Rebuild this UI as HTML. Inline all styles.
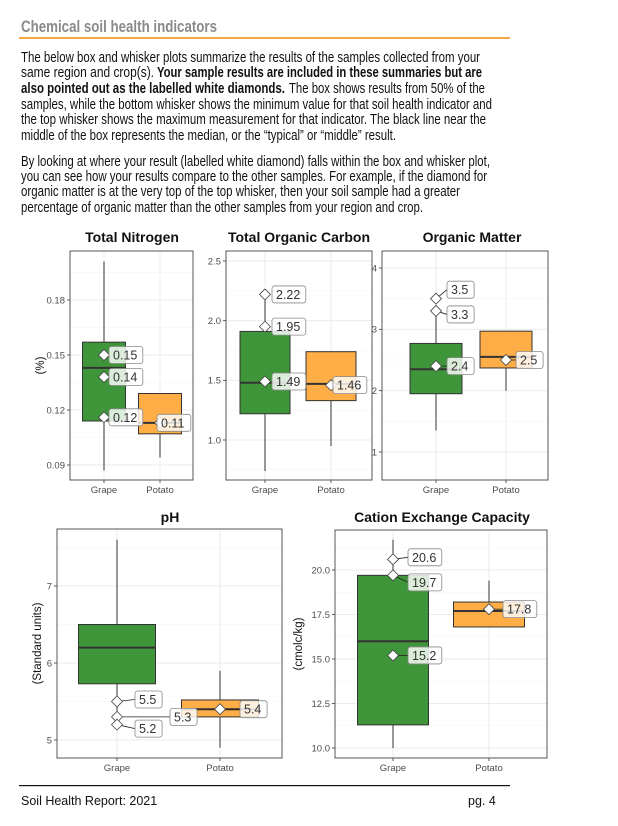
<!DOCTYPE html>
<html><head><meta charset="utf-8">
<style>
html,body{margin:0;padding:0;background:#fff;}
svg{display:block;font-family:"Liberation Sans",Arial,sans-serif;}
</style></head>
<body>
<svg id="page" width="618" height="826" viewBox="0 0 618 826">
<text x="21" y="32" font-size="17" font-weight="bold" fill="#8a8a8a" textLength="196" lengthAdjust="spacingAndGlyphs">Chemical soil health indicators</text>
<rect x="19" y="37" width="491" height="2" fill="#f5a742"/>
<g font-size="14.5" fill="#111">
<text x="21" y="62" textLength="459" lengthAdjust="spacingAndGlyphs">The below box and whisker plots summarize the results of the samples collected from your</text>
<text x="21" y="77"><tspan textLength="133" lengthAdjust="spacingAndGlyphs">same region and crop(s).</tspan><tspan x="157" font-weight="bold" textLength="325" lengthAdjust="spacingAndGlyphs">Your sample results are included in these summaries but are</tspan></text>
<text x="21" y="93"><tspan font-weight="bold" textLength="264" lengthAdjust="spacingAndGlyphs">also pointed out as the labelled white diamonds.</tspan><tspan x="289" textLength="196" lengthAdjust="spacingAndGlyphs">The box shows results from 50% of the</tspan></text>
<text x="21" y="109" textLength="471" lengthAdjust="spacingAndGlyphs">samples, while the bottom whisker shows the minimum value for that soil health indicator and</text>
<text x="21" y="124" textLength="465" lengthAdjust="spacingAndGlyphs">the top whisker shows the maximum measurement for that indicator. The black line near the</text>
<text x="21" y="140" textLength="375" lengthAdjust="spacingAndGlyphs">middle of the box represents the median, or the “typical” or “middle” result.</text>
</g>
<g font-size="14.5" fill="#111">
<text x="21" y="166" textLength="469" lengthAdjust="spacingAndGlyphs">By looking at where your result (labelled white diamond) falls within the box and whisker plot,</text>
<text x="21" y="181" textLength="466" lengthAdjust="spacingAndGlyphs">you can see how your results compare to the other samples. For example, if the diamond for</text>
<text x="21" y="196" textLength="439" lengthAdjust="spacingAndGlyphs">organic matter is at the very top of the top whisker, then your soil sample had a greater</text>
<text x="21" y="212" textLength="402" lengthAdjust="spacingAndGlyphs">percentage of organic matter than the other samples from your region and crop.</text>
</g>
<g id="charts"></g>
<rect x="19" y="785" width="491" height="1.2" fill="#111"/>
<text x="21" y="805" font-size="12.5" fill="#111">Soil Health Report: 2021</text>
<text x="468" y="805" font-size="12.5" fill="#111">pg. 4</text>
</svg>
<script>
// ---- data ----
const categories = ["Grape", "Potato"];
const tnMin = [0.087, 0.094], tnQ1 = [0.114, 0.107], tnMed = [0.143, 0.113], tnQ3 = [0.157, 0.129], tnMax = [0.201, 0.129];
const tnSamples = [[0.15, 0.138, 0.116], [0.113]];
const tnLabels = [["0.15", "0.14", "0.12"], ["0.11"]];
const tnTicks = [0.09, 0.12, 0.15, 0.18];
const tnTickLabels = ["0.09", "0.12", "0.15", "0.18"];

const tocMin = [0.74, 0.95], tocQ1 = [1.22, 1.33], tocMed = [1.48, 1.47], tocQ3 = [1.91, 1.74], tocMax = [2.22, 1.74];
const tocSamples = [[2.22, 1.95, 1.49], [1.46]];
const tocLabels = [["2.22", "1.95", "1.49"], ["1.46"]];
const tocTicks = [1.0, 1.5, 2.0, 2.5];
const tocTickLabels = ["1.0", "1.5", "2.0", "2.5"];

const omMin = [1.35, 2.0], omQ1 = [1.95, 2.37], omMed = [2.35, 2.55], omQ3 = [2.77, 2.97], omMax = [3.3, 2.97];
const omSamples = [[3.5, 3.3, 2.4], [2.5]];
const omLabels = [["3.5", "3.3", "2.4"], ["2.5"]];
const omTicks = [1, 2, 3, 4];
const omTickLabels = ["1", "2", "3", "4"];

const phMin = [5.2, 4.9], phQ1 = [5.73, 5.3], phMed = [6.2, 5.4], phQ3 = [6.5, 5.52], phMax = [7.6, 5.9];
const phSamples = [[5.5, 5.3, 5.2], [5.4]];
const phLabels = [["5.5", "5.3", "5.2"], ["5.4"]];
const phTicks = [5, 6, 7];
const phTickLabels = ["5", "6", "7"];

const cecMin = [10.0, 16.8], cecQ1 = [11.3, 16.8], cecMed = [16.0, 17.7], cecQ3 = [19.7, 18.2], cecMax = [21.7, 19.4];
const cecSamples = [[20.6, 19.7, 15.2], [17.8]];
const cecLabels = [["20.6", "19.7", "15.2"], ["17.8"]];
const cecTicks = [10.0, 12.5, 15.0, 17.5, 20.0];
const cecTickLabels = ["10.0", "12.5", "15.0", "17.5", "20.0"];

// ---- layout ----
const NS = "http://www.w3.org/2000/svg";
const root = document.getElementById("charts");
const fills = ["#3f963a", "#ffad47"];
function mk(tag, attrs, parent) {
  const e = document.createElementNS(NS, tag);
  for (const k in attrs) e.setAttribute(k, attrs[k]);
  parent.appendChild(e);
  return e;
}
function panel(cfg) {
  const g = mk("g", {}, root);
  
  
  const y = v => cfg.y0px + (v - cfg.t0) * (cfg.y1px - cfg.y0px) / (cfg.t1 - cfg.t0);
  const x = i => cfg.xs[i];
  mk("rect", {x: cfg.l, y: cfg.t, width: cfg.r - cfg.l, height: cfg.b - cfg.t, fill: "#fff"}, g);
  const step = cfg.ticks[1] - cfg.ticks[0];
  for (let v = cfg.ticks[0] - step / 2; ; v += step) {
    const py = y(v);
    if (py < cfg.t) break;
    if (py <= cfg.b) mk("line", {x1: cfg.l, x2: cfg.r, y1: py, y2: py, stroke: "#f4f4f4", "stroke-width": 0.6}, g);
  }
  cfg.ticks.forEach((v, i) => {
    const py = y(v);
    mk("line", {x1: cfg.l, x2: cfg.r, y1: py, y2: py, stroke: "#ebebeb", "stroke-width": 1}, g);
    mk("line", {x1: cfg.l - 3, x2: cfg.l, y1: py, y2: py, stroke: "#333", "stroke-width": 0.8}, g);
    const tl = mk("text", {x: cfg.l - 5, y: py + 3.3, "font-size": 9.5, fill: "#4d4d4d", "text-anchor": "end"}, g);
    tl.textContent = cfg.tickLabels[i];
    
    
  });
  categories.forEach((c, i) => {
    mk("line", {x1: x(i), x2: x(i), y1: cfg.t, y2: cfg.b, stroke: "#ebebeb", "stroke-width": 1}, g);
    mk("line", {x1: x(i), x2: x(i), y1: cfg.b, y2: cfg.b + 3, stroke: "#333", "stroke-width": 0.8}, g);
    const xl = mk("text", {x: x(i), y: cfg.b + 13, "font-size": 9.5, fill: "#4d4d4d", "text-anchor": "middle"}, g);
    xl.textContent = c;
    
    
  });
  mk("rect", {x: cfg.l, y: cfg.t, width: cfg.r - cfg.l, height: cfg.b - cfg.t, fill: "none", stroke: "#555", "stroke-width": 1}, g);
  const hw = cfg.bw / 2;
  categories.forEach((c, i) => {
    const bg = mk("g", {}, g);
    
    
    mk("line", {x1: x(i), x2: x(i), y1: y(cfg.max[i]), y2: y(cfg.q3[i]), stroke: "#333", "stroke-width": 1}, bg);
    mk("line", {x1: x(i), x2: x(i), y1: y(cfg.q1[i]), y2: y(cfg.min[i]), stroke: "#333", "stroke-width": 1}, bg);
    mk("rect", {x: x(i) - hw, y: y(cfg.q3[i]), width: cfg.bw, height: y(cfg.q1[i]) - y(cfg.q3[i]), fill: fills[i], stroke: "#333", "stroke-width": 1}, bg);
    mk("line", {x1: x(i) - hw, x2: x(i) + hw, y1: y(cfg.med[i]), y2: y(cfg.med[i]), stroke: "#333", "stroke-width": 2}, bg);
  });
  categories.forEach((c, i) => {
    cfg.samples[i].forEach((v, j) => {
      const dx = cfg.x(i), dy = y(v);
      const off = cfg.off[i][j];
      const lx = dx + off[0], ly = dy + off[1];
      const txt = cfg.labels[i][j];
      const w = txt.length * 6.7 + 7;
      if (off[0] > 9 || Math.abs(off[1]) > 2) mk("line", {x1: dx, y1: dy, x2: lx, y2: ly, stroke: "#222", "stroke-width": 0.8}, g);
      const d = mk("path", {d: `M${dx} ${dy - 5.5}L${dx + 5.5} ${dy}L${dx} ${dy + 5.5}L${dx - 5.5} ${dy}Z`, fill: "#fff", stroke: "#444", "stroke-width": 0.8}, g);
      
      
      const lb = mk("g", {}, g);
      
      
      mk("rect", {x: lx, y: ly - 8.5, width: w, height: 17, rx: 2.5, fill: "rgba(255,255,255,0.82)", stroke: "#888", "stroke-width": 0.8}, lb);
      const t = mk("text", {x: lx + 4, y: ly + 4.5, "font-size": 12.5, fill: "#333"}, lb);
      t.textContent = txt;
    });
  });
  const tt = mk("text", {x: cfg.titleX, y: cfg.titleY, "font-size": 14, "font-weight": "bold", fill: "#111", "text-anchor": "middle"}, g);
  tt.textContent = cfg.title;
  
  
  if (cfg.ytitle) {
    const yt = mk("text", {x: 0, y: 0, "font-size": 11.5, fill: "#111", "text-anchor": "middle", transform: `translate(${cfg.ytx},${(cfg.t + cfg.b) / 2}) rotate(-90)`}, g);
    yt.textContent = cfg.ytitle;
    
    
  }
}
function P(o) { o.x = i => o.xs[i]; panel(o); }

P({name: "total-nitrogen-chart", title: "Total Nitrogen", titleX: 132, titleY: 242, ytitle: "(%)", ytx: 44,
  l: 70, r: 193, t: 251, b: 480, xs: [104, 160], bw: 43, t0: 0.18, y0px: 300, t1: 0.09, y1px: 465,
  ticks: tnTicks, tickLabels: tnTickLabels, min: tnMin, q1: tnQ1, med: tnMed, q3: tnQ3, max: tnMax,
  samples: tnSamples, labels: tnLabels, off: [[[5, 0], [5, 0], [5, 0]], [[-3, 0]]]});
P({name: "total-organic-carbon-chart", title: "Total Organic Carbon", titleX: 299, titleY: 242,
  l: 226, r: 372, t: 251, b: 480, xs: [265, 331], bw: 50, t0: 2.5, y0px: 261, t1: 1.0, y1px: 440,
  ticks: tocTicks, tickLabels: tocTickLabels, min: tocMin, q1: tocQ1, med: tocMed, q3: tocQ3, max: tocMax,
  samples: tocSamples, labels: tocLabels, off: [[[7, 0], [7, 0], [7, 0]], [[2, 0]]]});
P({name: "organic-matter-chart", title: "Organic Matter", titleX: 472, titleY: 242,
  l: 382, r: 548, t: 251, b: 480, xs: [436, 506], bw: 52, t0: 4, y0px: 268, t1: 1, y1px: 452,
  ticks: omTicks, tickLabels: omTickLabels, min: omMin, q1: omQ1, med: omMed, q3: omQ3, max: omMax,
  samples: omSamples, labels: omLabels, off: [[[11, -9], [11, 3.5], [11, 0]], [[10, 0]]]});
P({name: "ph-chart", title: "pH", titleX: 170, titleY: 522, ytitle: "(Standard units)", ytx: 41,
  l: 57, r: 282, t: 529, b: 758, xs: [117, 220], bw: 77, t0: 7, y0px: 586, t1: 5, y1px: 740,
  ticks: phTicks, tickLabels: phTickLabels, min: phMin, q1: phQ1, med: phMed, q3: phQ3, max: phMax,
  samples: phSamples, labels: phLabels, off: [[[18, -2], [53, 0], [18, 4]], [[20, 0]]]});
P({name: "cation-exchange-capacity-chart", title: "Cation Exchange Capacity", titleX: 442, titleY: 522, ytitle: "(cmolc/kg)", ytx: 302,
  l: 335, r: 547, t: 530, b: 758, xs: [393, 489], bw: 71, t0: 20, y0px: 570, t1: 10, y1px: 748,
  ticks: cecTicks, tickLabels: cecTickLabels, min: cecMin, q1: cecQ1, med: cecMed, q3: cecQ3, max: cecMax,
  samples: cecSamples, labels: cecLabels, off: [[[15, -2], [15, 7], [15, 0]], [[14, 0]]]});
</script>
</body></html>
